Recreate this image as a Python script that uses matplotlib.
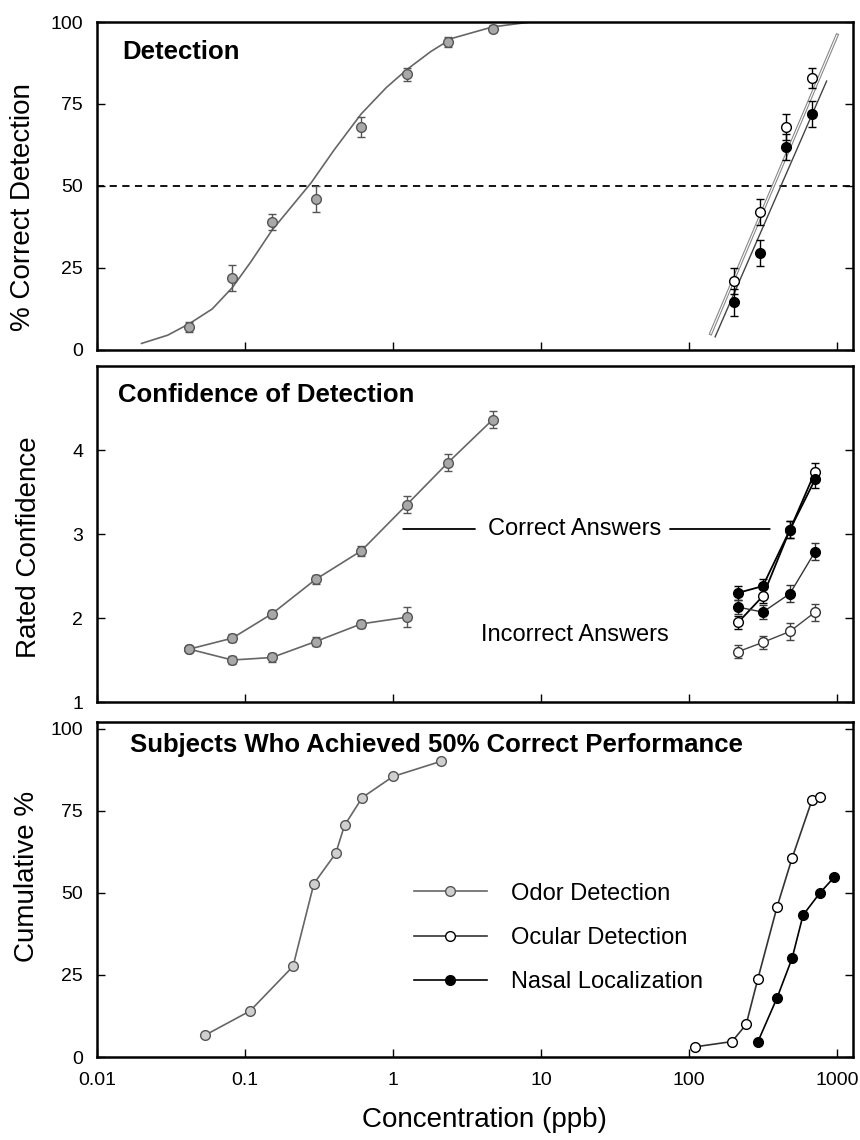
import matplotlib
matplotlib.use("Agg")
import matplotlib.pyplot as plt
from matplotlib.ticker import NullLocator, FixedLocator

plt.rcParams['font.family'] = ['Liberation Sans', 'DejaVu Sans']

# ---------------- data ----------------
# Panel 1: Detection (% correct)
det_odor_x = [0.042, 0.082, 0.152, 0.30, 0.61, 1.24, 2.35, 4.7]
det_odor_y = [7, 22, 39, 46, 68, 84, 94, 98]
det_odor_err = [1.5, 4, 2.5, 4, 3, 2, 1.5, 1]
det_fit_x = [0.02, 0.03, 0.042, 0.06, 0.082, 0.11, 0.152, 0.2, 0.28, 0.4,
             0.61, 0.9, 1.24, 1.8, 2.5, 4.7, 8.5]
det_fit_y = [2, 4.5, 8, 12.5, 19, 27, 36.5, 43, 51, 61,
             72, 80, 85.5, 91, 95, 98.5, 100]
det_hi_x = [200, 300, 450, 675]
det_ocular = [21, 42, 68, 83]
det_ocular_err = [4, 4, 4, 3]
det_nasal = [14.5, 29.5, 62, 72]
det_nasal_err = [4, 4, 4, 4]
fit_ocular_x = [140, 1000]
fit_ocular_y = [5, 96]
fit_nasal_x = [150, 850]
fit_nasal_y = [4, 82]

# Panel 2: Confidence of detection
conf_odor_x = [0.042, 0.082, 0.152, 0.30, 0.61, 1.24, 2.35, 4.7]
conf_odor_correct = [1.63, 1.76, 2.05, 2.46, 2.80, 3.35, 3.85, 4.36]
conf_odor_correct_err = [0.04, 0.05, 0.05, 0.05, 0.06, 0.1, 0.1, 0.1]
conf_odor_incorrect = [1.63, 1.50, 1.53, 1.72, 1.93, 2.01]
conf_odor_incorrect_err = [0.04, 0.05, 0.05, 0.05, 0.05, 0.12]
conf_hi_x = [215, 315, 480, 710]
conf_ocular_correct = [1.95, 2.26, 3.05, 3.74]
conf_nasal_correct = [2.30, 2.38, 3.05, 3.65]
conf_nasal_incorrect = [2.13, 2.07, 2.29, 2.79]
conf_ocular_incorrect = [1.60, 1.71, 1.84, 2.07]
conf_hi_err = [0.08, 0.08, 0.1, 0.1]

# Panel 3: cumulative % of subjects reaching 50% correct
cum_odor_x = [0.054, 0.108, 0.211, 0.292, 0.41, 0.47, 0.62, 1.0, 2.1]
cum_odor_y = [6.7, 14, 27.6, 52.8, 62, 70.5, 79, 85.4, 90]
cum_ocular_x = [110, 195, 243, 292, 393, 497, 678, 767]
cum_ocular_y = [3.1, 4.7, 9.9, 23.9, 45.7, 60.6, 78.3, 79.2]
cum_nasal_x = [292, 393, 497, 589, 767, 955]
cum_nasal_y = [4.7, 18, 30.1, 43.2, 50, 54.7]

xticks = [0.01, 0.1, 1, 10, 100, 1000]
xticklabels = ['0.01', '0.1', '1', '10', '100', '1000']

# ---------------- styles ----------------
ODOR_FC = '#a8a8a8'
ODOR_EC = '#555555'
ODOR_LC = '#666666'
MS = 7

fig = plt.figure(figsize=(8.6, 11.4), dpi=100)
ax1 = fig.add_axes([0.1128, 0.693, 0.879, 0.2877])
ax2 = fig.add_axes([0.1128, 0.3842, 0.879, 0.2947])
ax3 = fig.add_axes([0.1128, 0.0728, 0.879, 0.2939])

for ax in (ax1, ax2, ax3):
    ax.set_xscale('log')
    ax.set_xlim(0.01, 1280)
    ax.xaxis.set_major_locator(FixedLocator(xticks))
    ax.xaxis.set_minor_locator(NullLocator())
    for s in ax.spines.values():
        s.set_linewidth(1.8)
    ax.tick_params(direction='in', length=6, width=1.0, labelsize=14,
                   right=True, pad=10)
    ax.tick_params(axis='x', pad=11)

ax1.set_xticklabels([])
ax2.set_xticklabels([])
ax3.set_xticklabels(xticklabels)

# ---- Panel 1 ----
ax1.set_ylim(0, 100)
ax1.set_yticks([0, 25, 50, 75, 100])
ax1.axhline(50, color='black', ls=(0, (4, 3)), lw=1.3, zorder=1)
ax1.plot(det_fit_x, det_fit_y, color=ODOR_LC, lw=1.2, zorder=2)
ax1.errorbar(det_odor_x, det_odor_y, yerr=det_odor_err, fmt='o', ms=MS,
             mfc=ODOR_FC, mec=ODOR_EC, ecolor=ODOR_EC, elinewidth=1,
             capsize=3, zorder=3)
ax1.plot(fit_ocular_x, fit_ocular_y, color='#888888', lw=2.4, zorder=2)
ax1.plot(fit_ocular_x, fit_ocular_y, color='white', lw=0.8, zorder=2)
ax1.plot(fit_nasal_x, fit_nasal_y, color='#444444', lw=1.0, zorder=2)
ax1.errorbar(det_hi_x, det_ocular, yerr=det_ocular_err, fmt='o', ms=MS,
             mfc='white', mec='black', ecolor='black', elinewidth=1,
             capsize=3, zorder=4)
ax1.errorbar(det_hi_x, det_nasal, yerr=det_nasal_err, fmt='o', ms=MS,
             mfc='black', mec='black', ecolor='black', elinewidth=1,
             capsize=3, zorder=4)
ax1.text(0.034, 0.909, 'Detection', transform=ax1.transAxes,
         fontsize=18.5, fontweight='bold', va='center', ha='left')
ax1.set_ylabel('% Correct Detection', fontsize=20)
ax1.yaxis.set_label_coords(-0.081, 0.435)

# ---- Panel 2 ----
ax2.set_ylim(1, 5)
ax2.set_yticks([1, 2, 3, 4])
ax2.errorbar(conf_odor_x, conf_odor_correct, yerr=conf_odor_correct_err,
             fmt='-o', ms=MS, color=ODOR_LC, mfc=ODOR_FC, mec=ODOR_EC,
             ecolor=ODOR_EC, elinewidth=1, capsize=3, lw=1.2, zorder=3)
ax2.errorbar(conf_odor_x[:len(conf_odor_incorrect)], conf_odor_incorrect,
             yerr=conf_odor_incorrect_err, fmt='-o', ms=MS, color=ODOR_LC,
             mfc=ODOR_FC, mec=ODOR_EC, ecolor=ODOR_EC, elinewidth=1,
             capsize=3, lw=1.2, zorder=3)
ax2.errorbar(conf_hi_x, conf_ocular_correct, yerr=conf_hi_err, fmt='-o',
             ms=MS, color='black', mfc='white', mec='black', ecolor='black',
             elinewidth=1, capsize=3, lw=1.3, zorder=4)
ax2.errorbar(conf_hi_x, conf_nasal_correct, yerr=conf_hi_err, fmt='-o',
             ms=MS, color='black', mfc='black', mec='black', ecolor='black',
             elinewidth=1, capsize=3, lw=1.3, zorder=4)
ax2.errorbar(conf_hi_x, conf_nasal_incorrect, yerr=conf_hi_err, fmt='-o',
             ms=MS, color='#333333', mfc='black', mec='black', ecolor='#333333',
             elinewidth=1, capsize=3, lw=1.0, zorder=4)
ax2.errorbar(conf_hi_x, conf_ocular_incorrect, yerr=conf_hi_err, fmt='-o',
             ms=MS, color='#444444', mfc='white', mec='#333333',
             ecolor='#444444', elinewidth=1, capsize=3, lw=1.0, zorder=4)
ax2.text(0.028, 0.914, 'Confidence of Detection', transform=ax2.transAxes,
         fontsize=18.5, fontweight='bold', va='center', ha='left')
ax2.text(0.632, 0.515, 'Correct Answers', transform=ax2.transAxes,
         fontsize=17, va='center', ha='center')
ax2.text(0.632, 0.199, 'Incorrect Answers', transform=ax2.transAxes,
         fontsize=17, va='center', ha='center')
ax2.annotate('', xy=(0.405, 0.515), xytext=(0.50, 0.515),
             xycoords='axes fraction', textcoords='axes fraction',
             arrowprops=dict(arrowstyle='-', color='black', lw=1.3,
                             shrinkA=0, shrinkB=0))
ax2.annotate('', xy=(0.890, 0.515), xytext=(0.758, 0.515),
             xycoords='axes fraction', textcoords='axes fraction',
             arrowprops=dict(arrowstyle='-', color='black', lw=1.3,
                             shrinkA=0, shrinkB=0))
ax2.set_ylabel('Rated Confidence', fontsize=20)
ax2.yaxis.set_label_coords(-0.073, 0.46)

# ---- Panel 3 ----
ax3.set_ylim(0, 102)
ax3.set_yticks([0, 25, 50, 75, 100])
ax3.plot(cum_odor_x, cum_odor_y, '-o', ms=MS, color=ODOR_LC, mfc='#cfcfcf',
         mec=ODOR_EC, lw=1.2, label='Odor Detection', zorder=3)
ax3.plot(cum_ocular_x, cum_ocular_y, '-o', ms=MS, color='#333333',
         mfc='white', mec='black', lw=1.2, label='Ocular Detection', zorder=3)
ax3.plot(cum_nasal_x, cum_nasal_y, '-o', ms=MS, color='black',
         mfc='black', mec='black', lw=1.2, label='Nasal Localization',
         zorder=3)
ax3.text(0.044, 0.931, 'Subjects Who Achieved 50% Correct Performance',
         transform=ax3.transAxes, fontsize=18.5, fontweight='bold',
         va='center', ha='left')
leg = ax3.legend(loc='center left', bbox_to_anchor=(0.419, 0.355),
                 frameon=False, fontsize=17, handlelength=3.1,
                 handletextpad=1.0, labelspacing=0.95, borderpad=0,
                 borderaxespad=0)
ax3.set_ylabel('Cumulative %', fontsize=20)
ax3.yaxis.set_label_coords(-0.075, 0.54)
ax3.set_xlabel('Concentration (ppb)', fontsize=20)
ax3.xaxis.set_label_coords(0.513, -0.15)

fig.savefig('out.png', dpi=100)
